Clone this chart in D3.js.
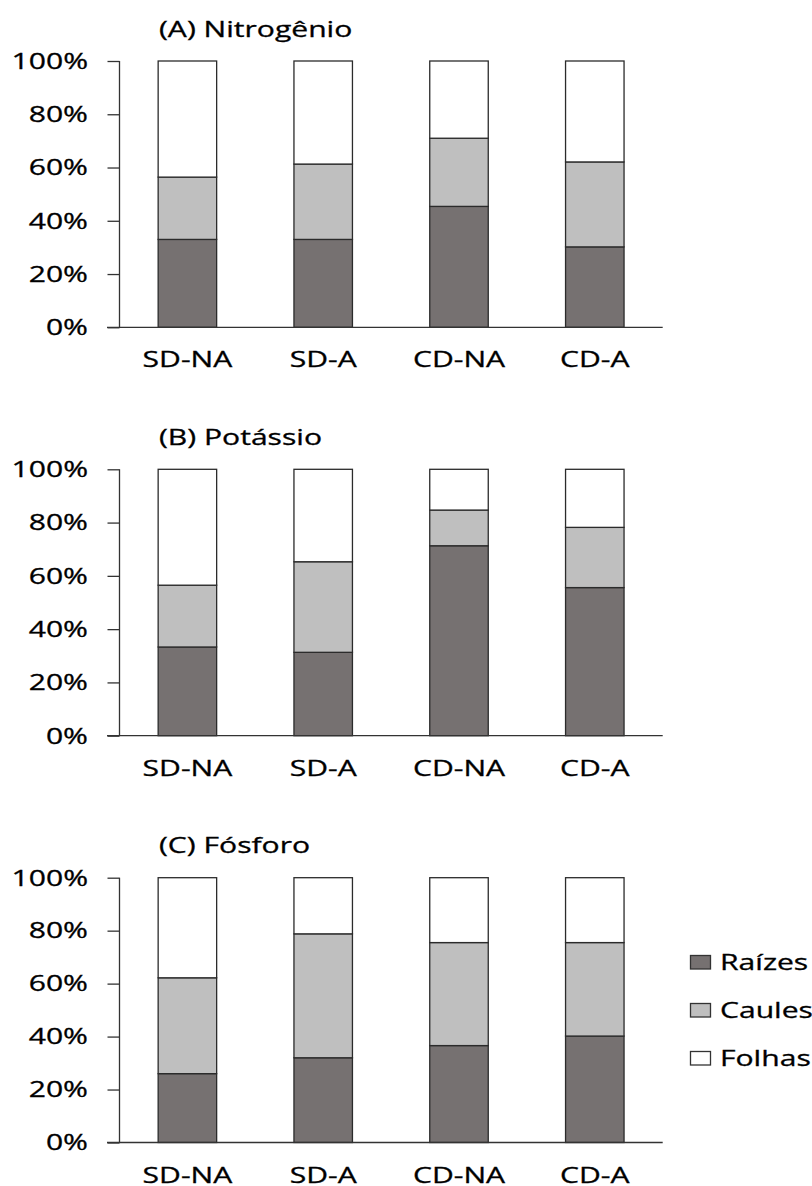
<!DOCTYPE html>
<html>
<head>
<meta charset="utf-8">
<script src="https://cdn.jsdelivr.net/npm/d3@7"></script>
<style>
  html, body { margin: 0; padding: 0; background: #fff; }
  svg { display: block; }
  text { font-family: "Open Sans", "DejaVu Sans", sans-serif; fill: #000; stroke: #000; stroke-width: 0.3px; }
</style>
</head>
<body>
<svg id="chart" width="812" height="1186"></svg>
<script>
// Treatments on the x axis
const categories = ["SD-NA", "SD-A", "CD-NA", "CD-A"];
// Plant parts (stack order, bottom to top)
const seriesNames = ["Raízes", "Caules", "Folhas"];
const panelTitles = ["(A) Nitrogênio", "(B) Potássio", "(C) Fósforo"];
const yTickValues = [0, 20, 40, 60, 80, 100];

// Share of each nutrient per plant part (%)
const nitrogenioRaizes = [33.0, 33.0, 45.4, 30.2];
const nitrogenioCaules = [23.4, 28.3, 25.6, 31.9];
const nitrogenioFolhas = [43.6, 38.7, 29.0, 37.9];

const potassioRaizes = [33.3, 31.3, 71.3, 55.6];
const potassioCaules = [23.2, 34.0, 13.4, 22.6];
const potassioFolhas = [43.5, 34.7, 15.3, 21.8];

const fosforoRaizes = [26.0, 32.0, 36.6, 40.2];
const fosforoCaules = [36.2, 46.8, 38.9, 35.3];
const fosforoFolhas = [37.8, 21.2, 24.5, 24.5];

const panels = [
  [nitrogenioRaizes, nitrogenioCaules, nitrogenioFolhas],
  [potassioRaizes, potassioCaules, potassioFolhas],
  [fosforoRaizes, fosforoCaules, fosforoFolhas]
];

const fills = ["#767171", "#bfbfbf", "#ffffff"];
const textScaleX = 1.4;   // wide lettering
const fontSize = 21.5;

const svg = d3.select("#chart");

const axisLeft = 119.5, axisRight = 662.7;
const panelTop = [61, 469.3, 877.7];
const panelBottom = [327.3, 735.7, 1142.5];

const x = d3.scaleBand().domain(categories).range([axisLeft, axisRight]).padding(0);
const barWidth = 58.5;

const color = d3.scaleOrdinal().domain(seriesNames).range(fills);

// Horizontally stretched text helper
function wideText(g, str, tx, ty, anchor) {
  return g.append("text")
    .attr("transform", `translate(${tx},${ty}) scale(${textScaleX},1)`)
    .attr("text-anchor", anchor)
    .style("font-size", fontSize + "px")
    .text(str);
}

panels.forEach((series, p) => {
  const g = svg.append("g");
  const y = d3.scaleLinear().domain([0, 100]).range([panelBottom[p], panelTop[p]]);

  const rows = categories.map((c, i) => {
    const r = { cat: c };
    seriesNames.forEach((s, k) => { r[s] = series[k][i]; });
    return r;
  });
  const stacked = d3.stack().keys(seriesNames)(rows);

  // stacked bars
  g.selectAll("g.layer").data(stacked).join("g")
    .attr("class", "layer")
    .attr("fill", d => color(d.key))
    .selectAll("rect").data(d => d).join("rect")
    .attr("x", d => x(d.data.cat) + x.bandwidth() / 2 - barWidth / 2)
    .attr("width", barWidth)
    .attr("y", d => y(d[1]))
    .attr("height", d => y(d[0]) - y(d[1]))
    .attr("stroke", "#2b2b2b")
    .attr("stroke-width", 1.3);

  // y axis
  const yAxis = g.append("g")
    .attr("transform", `translate(${axisLeft},0)`)
    .call(d3.axisLeft(y).tickValues(yTickValues).tickSize(12).tickFormat(""));
  yAxis.selectAll("path, line").attr("stroke", "#333").attr("stroke-width", 1.3);
  yAxis.select("path.domain").attr("d", `M0,${y(0)}V${y(100)}`);

  yTickValues.forEach(v => {
    wideText(g, v + "%", 88, y(v) + 7.8, "end");
  });

  // x axis baseline
  const xAxis = g.append("g")
    .attr("transform", `translate(0,${y(0)})`)
    .call(d3.axisBottom(x).tickSize(0).tickFormat(""));
  xAxis.select("path.domain")
    .attr("d", `M${axisLeft - 12.5},0H${axisRight}`)
    .attr("stroke", "#333").attr("stroke-width", 1.3);

  categories.forEach(c => {
    wideText(g, c, x(c) + x.bandwidth() / 2, y(0) + 40, "middle");
  });

  // panel title
  wideText(g, panelTitles[p], 159, panelTop[p] - 24.5, "start");
});

// legend
const legend = svg.append("g").attr("transform", "translate(690,955)");
seriesNames.forEach((s, i) => {
  const row = legend.append("g").attr("transform", `translate(0,${i * 48})`);
  row.append("rect")
    .attr("x", 0.5).attr("y", 0.5)
    .attr("width", 20).attr("height", 13.5)
    .attr("fill", color(s))
    .attr("stroke", "#333").attr("stroke-width", 1.3);
  wideText(row, s, 30, 15, "start");
});
</script>
</body>
</html>
